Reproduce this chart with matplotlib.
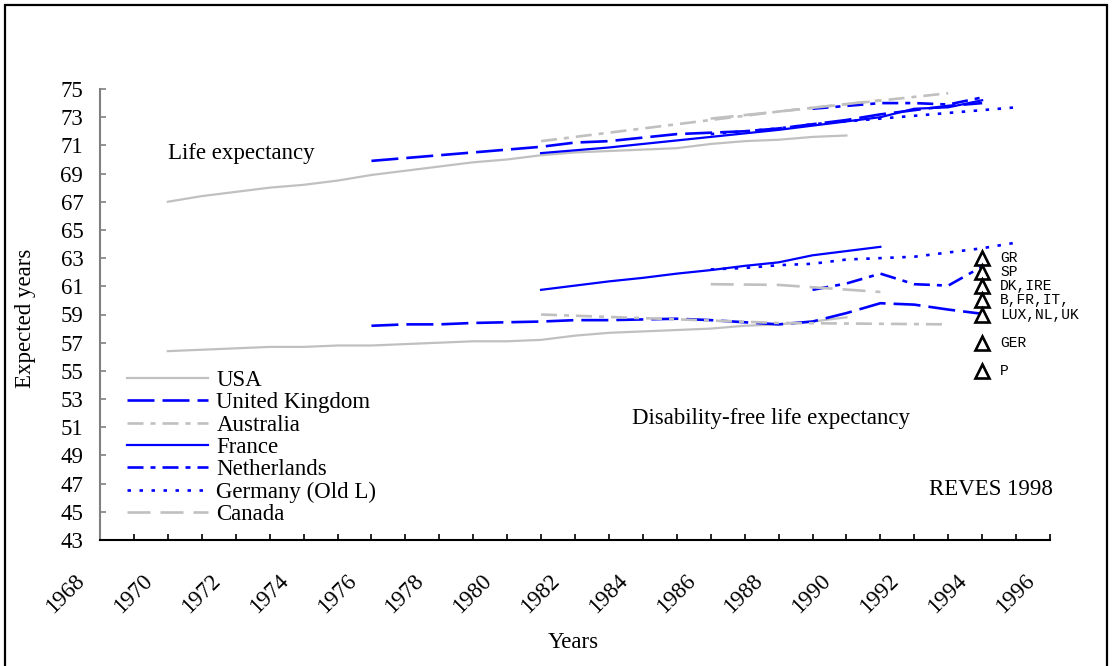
import matplotlib
matplotlib.use('Agg')
import matplotlib.pyplot as plt
from matplotlib.patches import Rectangle
from matplotlib.transforms import ScaledTranslation

# ---------------- data ----------------
usa_years = list(range(1970, 1991))
usa_le = [67.0, 67.4, 67.7, 68.0, 68.2, 68.5, 68.9, 69.2, 69.5, 69.8, 70.0,
          70.3, 70.5, 70.6, 70.7, 70.8, 71.1, 71.3, 71.4, 71.6, 71.7]
usa_dfle = [56.4, 56.5, 56.6, 56.7, 56.7, 56.8, 56.8, 56.9, 57.0, 57.1, 57.1,
            57.2, 57.5, 57.7, 57.8, 57.9, 58.0, 58.2, 58.3, 58.5, 58.8]

uk_years = list(range(1976, 1995))
uk_le = [69.9, 70.1, 70.3, 70.5, 70.7, 70.9, 71.2, 71.3, 71.55, 71.8, 71.9,
         72.0, 72.2, 72.5, 72.8, 73.2, 73.5, 73.8, 74.0]
uk_dfle = [58.2, 58.3, 58.3, 58.4, 58.45, 58.5, 58.6, 58.6, 58.65, 58.7, 58.6,
           58.45, 58.3, 58.5, 59.1, 59.8, 59.7, 59.35, 59.05]

aus_years = [1981, 1988, 1993]
aus_le = [71.3, 73.4, 74.7]
aus_dfle = [59.0, 58.4, 58.3]

fra_le_years = list(range(1981, 1995))
fra_le = [70.45, 70.65, 70.85, 71.1, 71.35, 71.6, 71.85, 72.1, 72.4, 72.7,
          73.0, 73.6, 73.7, 74.2]
fra_dfle_years = list(range(1981, 1992))
fra_dfle = [60.75, 61.05, 61.35, 61.6, 61.9, 62.15, 62.45, 62.7, 63.2, 63.5, 63.8]

nl_years = list(range(1989, 1995))
nl_le = [73.6, 73.8, 74.0, 74.0, 73.9, 74.4]
nl_dfle = [60.75, 61.2, 61.9, 61.15, 61.05, 62.4]

ger_years = list(range(1986, 1996))
ger_le = [71.8, 72.0, 72.2, 72.5, 72.7, 72.9, 73.1, 73.3, 73.5, 73.7]
ger_dfle = [62.2, 62.3, 62.5, 62.6, 62.9, 63.0, 63.1, 63.4, 63.7, 64.1]

can_years = [1986, 1988, 1991]
can_le = [72.9, 73.4, 74.2]
can_dfle = [61.15, 61.1, 60.6]

eu_year = 1994
eu_values = [63, 62, 61, 60, 59, 57, 55]
eu_labels = ["GR", "SP", "DK,IRE", "B,FR,IT,", "LUX,NL,UK", "GER", "P"]

x_ticks = list(range(1968, 1997))
x_ticklabels = [str(y) if y % 2 == 0 else "" for y in x_ticks]
y_ticks = list(range(43, 76, 2))

# ---------------- style ----------------
plt.rcParams['font.family'] = ['Liberation Serif', 'DejaVu Serif']
plt.rcParams['lines.scale_dashes'] = False

GRAY = '#C0C0C0'
BLUE = '#0000FF'
FS = 16.5

def px(v):
    return v * 0.72

fig = plt.figure(figsize=(11.12, 6.66), dpi=100)
ax = fig.add_axes([100 / 1112, 126 / 666, 950 / 1112, 451 / 666])

styles = {
    'usa': dict(color=GRAY, lw=1.6, ls='-'),
    'uk': dict(color=BLUE, lw=1.9, ls=(0, (px(27), px(8)))),
    'aus': dict(color=GRAY, lw=1.9, ls=(0, (px(16), px(7), px(5), px(7)))),
    'fra': dict(color=BLUE, lw=1.6, ls='-'),
    'nl': dict(color=BLUE, lw=1.9, ls=(0, (px(16), px(7), px(5), px(7)))),
    'ger': dict(color=BLUE, lw=1.9, ls=(0, (px(3.5), px(8.5)))),
    'can': dict(color=GRAY, lw=1.9, ls=(0, (px(23), px(10)))),
}

ax.plot(usa_years, usa_le, **styles['usa'], label='USA')
ax.plot(usa_years, usa_dfle, **styles['usa'])
ax.plot(uk_years, uk_le, **styles['uk'], label='United Kingdom')
ax.plot(uk_years, uk_dfle, **styles['uk'])
ax.plot(aus_years, aus_le, **styles['aus'], label='Australia')
ax.plot(aus_years, aus_dfle, **styles['aus'])
ax.plot(fra_le_years, fra_le, **styles['fra'], label='France')
ax.plot(fra_dfle_years, fra_dfle, **styles['fra'])
ax.plot(nl_years, nl_le, **styles['nl'], label='Netherlands')
ax.plot(nl_years, nl_dfle, **styles['nl'])
ax.plot(ger_years, ger_le, **styles['ger'], label='Germany (Old L)')
ax.plot(ger_years, ger_dfle, **styles['ger'])
ax.plot(can_years, can_le, **styles['can'], label='Canada')
ax.plot(can_years, can_dfle, **styles['can'])

# European triangles
ax.plot([eu_year] * len(eu_values), eu_values, ls='none', marker='^',
        ms=10.5, mfc='white', mec='black', mew=1.9, clip_on=False, zorder=5)
for v, lab in zip(eu_values, eu_labels):
    ax.annotate(lab, (eu_year, v), xytext=(13, 0), textcoords='offset points',
                ha='left', va='center', fontsize=10.5,
                family=['Liberation Mono', 'DejaVu Sans Mono'],
                annotation_clip=False)

# axes
ax.set_xlim(1968, 1996)
ax.set_ylim(43, 75)
ax.set_xticks(x_ticks)
ax.set_xticklabels(x_ticklabels, rotation=45, ha='right',
                   rotation_mode='anchor', fontsize=FS)
ax.set_yticks(y_ticks)
ax.set_yticklabels([str(v) for v in y_ticks], fontsize=FS)
ax.tick_params(axis='x', direction='in', length=6 * 0.72, width=1.2,
               color='black', pad=22)
ax.tick_params(axis='y', direction='in', length=6 * 0.72, width=1.2,
               color='#808080', pad=12)
offset = ScaledTranslation(-26 / 100, 0, fig.dpi_scale_trans)
for lab in ax.get_xticklabels():
    lab.set_transform(lab.get_transform() + offset)

for s in ['top', 'right']:
    ax.spines[s].set_visible(False)
ax.spines['left'].set_color('#808080')
ax.spines['left'].set_linewidth(1.5)
ax.spines['bottom'].set_color('black')
ax.spines['bottom'].set_linewidth(1.5)

# texts
ax.text(1970.0, 70.4, 'Life expectancy', fontsize=FS, ha='left', va='center')
ax.text(1983.68, 51.64, 'Disability-free life expectancy', fontsize=FS,
        ha='left', va='center')
ax.text(1.003, 0.111, 'REVES 1998', transform=ax.transAxes, fontsize=FS,
        ha='right', va='center')
fig.text(25 / 1112, (666 - 318) / 666, 'Expected years', rotation=90,
         fontsize=FS, ha='center', va='center')
fig.text(573 / 1112, (666 - 643) / 666, 'Years', fontsize=FS,
         ha='center', va='center')

# legend
leg = ax.legend(loc='upper left', bbox_to_anchor=(127 / 1112, (666 - 370) / 666),
                bbox_transform=fig.transFigure, frameon=False, fontsize=FS,
                handlelength=3.55, handletextpad=0.35, labelspacing=0.055,
                borderpad=0, borderaxespad=0)

# outer frame
fig.add_artist(Rectangle((5 / 1112, -0.05), 1102 / 1112, 661 / 666 + 0.05,
                         transform=fig.transFigure, fill=False, lw=1.6,
                         ec='black'))

fig.savefig('out.png', dpi=100)
